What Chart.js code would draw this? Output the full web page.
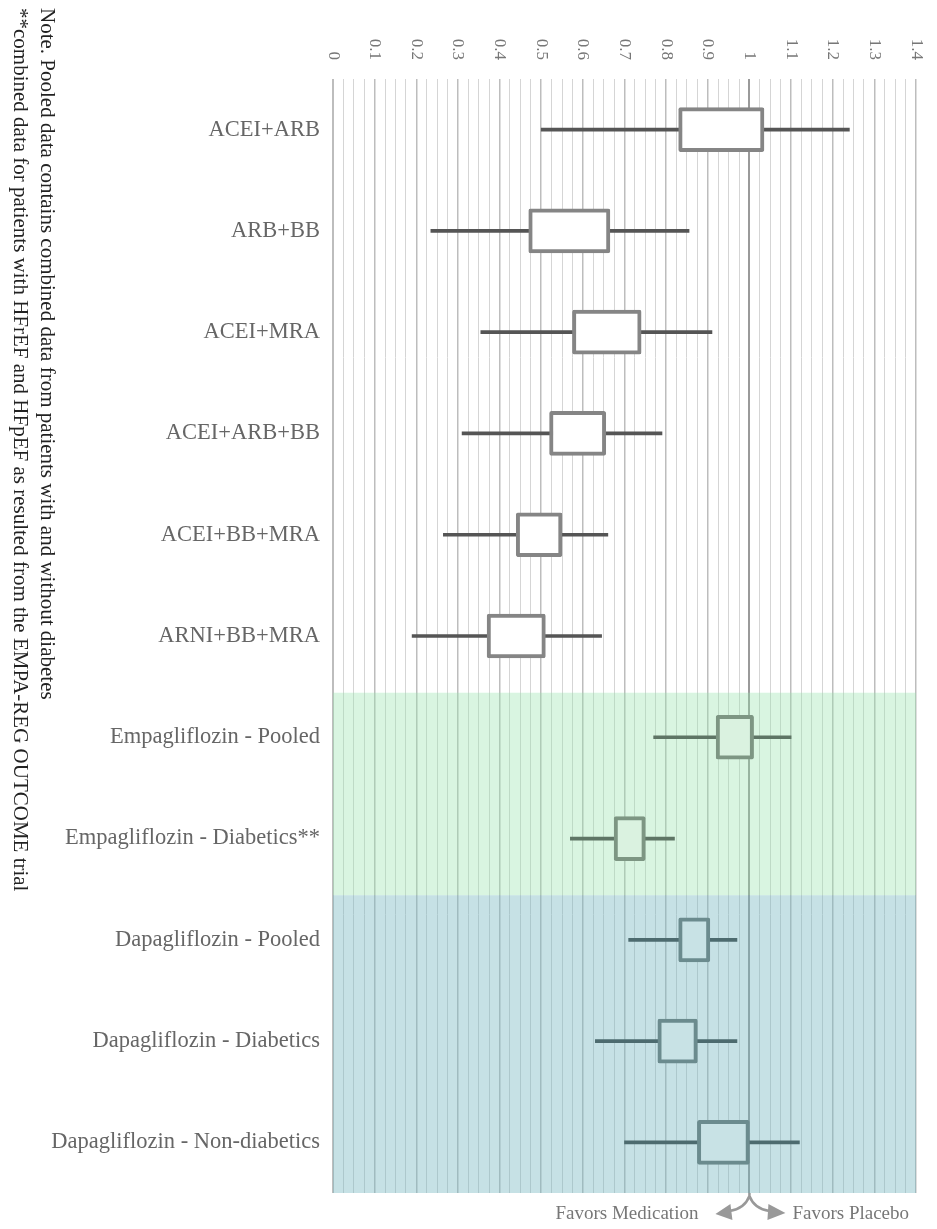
<!DOCTYPE html>
<html>
<head>
<meta charset="utf-8">
<script src="https://cdn.jsdelivr.net/npm/chart.js@4.4.0/dist/chart.umd.min.js"></script>
<style>
body { margin: 0; background: #fff; }
</style>
</head>
<body>
<canvas id="chart-forest" width="937" height="1229"></canvas>
<script>
// data
var categories = ['ACEI+ARB', 'ARB+BB', 'ACEI+MRA', 'ACEI+ARB+BB', 'ACEI+BB+MRA', 'ARNI+BB+MRA',
    'Empagliflozin - Pooled', 'Empagliflozin - Diabetics**',
    'Dapagliflozin - Pooled', 'Dapagliflozin - Diabetics', 'Dapagliflozin - Non-diabetics'];
var whiskerLow  = [0.50, 0.235, 0.355, 0.31, 0.265, 0.19, 0.77, 0.57, 0.71, 0.63, 0.70];
var boxLow      = [0.83, 0.47, 0.575, 0.52, 0.44, 0.37, 0.92, 0.675, 0.83, 0.78, 0.875];
var boxHigh     = [1.035, 0.665, 0.74, 0.655, 0.55, 0.51, 1.01, 0.75, 0.905, 0.875, 1.0];
var whiskerHigh = [1.24, 0.855, 0.91, 0.79, 0.66, 0.645, 1.10, 0.82, 0.97, 0.97, 1.12];
var groups = ['none', 'none', 'none', 'none', 'none', 'none', 'empa', 'empa', 'dapa', 'dapa', 'dapa'];
var tickLabels = ['0', '0.1', '0.2', '0.3', '0.4', '0.5', '0.6', '0.7', '0.8', '0.9', '1', '1.1', '1.2', '1.3', '1.4'];
var noteLines = ['Note. Pooled data contains combined data from patients with and without diabetes',
    '**combined data for patients with HFrEF and HFpEF as resulted from the EMPA-REG OUTCOME trial'];
var favorLabels = ['Favors Medication', 'Favors Placebo'];

var boxBorder = { none: '#858585', empa: '#7d9683', dapa: '#6b8b8e' };
var boxFill = { none: '#ffffff', empa: '#daf2e0', dapa: '#c8e2e5' };
var whiskerColor = { none: '#555555', empa: '#5e7565', dapa: '#4d6b6f' };
var bandColor = { empa: 'rgba(150,226,172,0.36)', dapa: 'rgba(120,184,192,0.42)' };

var serif = '"Liberation Serif", "Times New Roman", serif';

var bandsPlugin = {
    id: 'bands',
    beforeDatasetsDraw: function(chart) {
        var ctx = chart.ctx, area = chart.chartArea, y = chart.scales.y;
        var step = y.getPixelForValue(1) - y.getPixelForValue(0);
        ['empa', 'dapa'].forEach(function(g) {
            var first = groups.indexOf(g), last = groups.lastIndexOf(g);
            var top = y.getPixelForValue(first) - step * 0.44;
            var bottom = Math.min(area.bottom, y.getPixelForValue(last) + step * 0.56);
            ctx.save();
            ctx.fillStyle = bandColor[g];
            ctx.fillRect(area.left, top, area.right - area.left, bottom - top);
            ctx.restore();
        });
    }
};

var extrasPlugin = {
    id: 'extras',
    afterDraw: function(chart) {
        var ctx = chart.ctx, area = chart.chartArea, x = chart.scales.x;
        ctx.save();
        // rotated tick labels on top
        ctx.font = '17px ' + serif;
        ctx.fillStyle = '#777';
        ctx.textAlign = 'right';
        ctx.textBaseline = 'middle';
        tickLabels.forEach(function(t) {
            ctx.save();
            ctx.translate(x.getPixelForValue(parseFloat(t)), 60);
            ctx.rotate(Math.PI / 2);
            ctx.fillText(t, 0, 0);
            ctx.restore();
        });
        // notes on the left
        ctx.font = '21px ' + serif;
        ctx.fillStyle = '#222';
        ctx.textAlign = 'left';
        noteLines.forEach(function(line, i) {
            ctx.save();
            ctx.translate(47 - i * 27, 8);
            ctx.rotate(Math.PI / 2);
            ctx.fillText(line, 0, 0);
            ctx.restore();
        });
        // arrows at 1
        var x1 = x.getPixelForValue(1);
        var b = area.bottom;
        ctx.strokeStyle = '#999';
        ctx.fillStyle = '#999';
        ctx.lineWidth = 2.5;
        ctx.beginPath();
        ctx.moveTo(x1, b);
        ctx.lineTo(x1, b + 3);
        ctx.quadraticCurveTo(x1 - 5, b + 16, x1 - 20, b + 18);
        ctx.moveTo(x1, b + 3);
        ctx.quadraticCurveTo(x1 + 5, b + 16, x1 + 20, b + 18);
        ctx.stroke();
        ctx.beginPath();
        ctx.moveTo(x1 - 34, b + 21);
        ctx.lineTo(x1 - 19, b + 11);
        ctx.lineTo(x1 - 17, b + 27);
        ctx.closePath();
        ctx.moveTo(x1 + 36, b + 20);
        ctx.lineTo(x1 + 19, b + 11);
        ctx.lineTo(x1 + 18, b + 27);
        ctx.closePath();
        ctx.fill();
        ctx.font = '19px ' + serif;
        ctx.fillStyle = '#777';
        ctx.textBaseline = 'middle';
        ctx.textAlign = 'right';
        ctx.fillText(favorLabels[0], x1 - 51, b + 21);
        ctx.textAlign = 'left';
        ctx.fillText(favorLabels[1], x1 + 43, b + 21);
        ctx.restore();
    }
};

function isMajor(v) {
    return Math.abs(v * 10 - Math.round(v * 10)) < 1e-6;
}

const ctx = document.getElementById('chart-forest').getContext('2d');
const myChart = new Chart(ctx, {
    type: 'bar',
    data: {
        labels: categories,
        datasets: [{
            label: 'box',
            data: categories.map(function(c, i) { return [boxLow[i], boxHigh[i]]; }),
            backgroundColor: groups.map(function(g) { return boxFill[g]; }),
            borderColor: groups.map(function(g) { return boxBorder[g]; }),
            borderWidth: 4,
            borderSkipped: false,
            borderRadius: 2,
            barThickness: 44,
            order: 1
        },
        {
            label: 'whisker',
            data: categories.map(function(c, i) { return [whiskerLow[i], whiskerHigh[i]]; }),
            backgroundColor: groups.map(function(g) { return whiskerColor[g]; }),
            borderWidth: 0,
            barThickness: 3,
            order: 2
        }]
    },
    options: {
        indexAxis: 'y',
        responsive: false,
        animation: false,
        grouped: false,
        layout: { padding: { left: 0, top: 0, right: 21, bottom: 36 } },
        plugins: { legend: { display: false }, tooltip: { enabled: false } },
        scales: {
            x: {
                position: 'top',
                min: 0,
                max: 1.4,
                ticks: { stepSize: 0.025, display: false },
                border: { display: false },
                grid: {
                    drawTicks: false,
                    color: function(c) {
                        var v = c.tick.value;
                        if (Math.abs(v - 1) < 1e-6) return '#9a9a9a';
                        return isMajor(v) ? '#bdbdbd' : '#d5d5d5';
                    },
                    lineWidth: function(c) {
                        var v = c.tick.value;
                        if (Math.abs(v) < 1e-6 || Math.abs(v - 1) < 1e-6) return 2;
                        return isMajor(v) ? 1.5 : 1;
                    }
                },
                afterFit: function(scale) { scale.height = 79; }
            },
            y: {
                ticks: {
                    font: { family: serif, size: 22.5 },
                    color: '#666',
                    padding: 13
                },
                grid: { display: false, drawTicks: false },
                border: { display: false },
                afterFit: function(scale) { scale.width = 333; }
            }
        }
    },
    plugins: [bandsPlugin, extrasPlugin]
});
</script>
</body>
</html>
